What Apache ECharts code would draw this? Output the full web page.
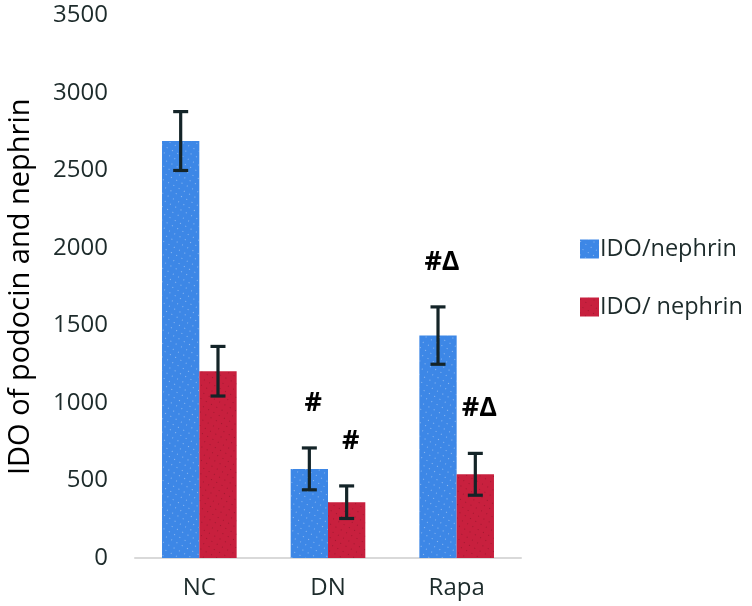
<!DOCTYPE html>
<html>
<head>
<meta charset="utf-8">
<script src="https://cdn.jsdelivr.net/npm/echarts@6/dist/echarts.min.js"></script>
<style>html,body{margin:0;padding:0;background:#fff}#c{width:752px;height:606px}</style>
</head>
<body>
<div id="c"></div>
<script>
var categories = ['NC', 'DN', 'Rapa'];
var seriesNames = ['IDO/nephrin', 'IDO/ nephrin'];
var blueValues = [2690, 575, 1435];
var blueErrors = [190, 135, 185];
var blueMarks = ['', '#', '#Δ'];
var redValues = [1205, 360, 540];
var redErrors = [160, 105, 135];
var redMarks = ['', '#', '#Δ'];
var yTicks = { min: 0, max: 3500, interval: 500 };

var TEXT = '#1d2b2b';
var FONT = '"Open Sans", "Noto Sans", sans-serif';
var GAP = 0.42;

function errSeries(values, errors, marks, side) {
  return {
    type: 'custom',
    z: 10,
    silent: true,
    data: values.map(function (v, i) { return [i, v, errors[i]]; }),
    encode: { x: 0, y: 1 },
    renderItem: function (params, api) {
      var i = api.value(0), v = api.value(1), e = api.value(2);
      var mark = marks[i];
      var band = api.size([1, 0])[0];
      var w = band * (1 - GAP) / 2;
      var c = api.coord([i, v]);
      var x = c[0] + side * w / 2;
      var top = api.coord([i, v + e])[1];
      var bot = api.coord([i, v - e])[1];
      var cap = 7.5;
      var st = { stroke: '#142428', lineWidth: 3.2 };
      var children = [
        { type: 'line', shape: { x1: x, y1: top, x2: x, y2: bot }, style: st },
        { type: 'line', shape: { x1: x - cap, y1: top, x2: x + cap, y2: top }, style: st },
        { type: 'line', shape: { x1: x - cap, y1: bot, x2: x + cap, y2: bot }, style: st }
      ];
      if (mark) {
        children.push({
          type: 'text',
          style: {
            text: mark, x: x + 4, y: top - 45,
            textAlign: 'center', textVerticalAlign: 'middle',
            fill: '#000', font: 'bold 27px ' + FONT
          }
        });
      }
      return { type: 'group', children: children };
    }
  };
}

var chart = echarts.init(document.getElementById('c'), null, { renderer: 'canvas' });
chart.setOption({
  animation: false,
  backgroundColor: '#fff',
  grid: { left: 135, right: 231, top: 15.5, bottom: 48, containLabel: false, outerBoundsMode: 'none' },
  legend: {
    orient: 'vertical', left: 580, top: 237, padding: 0,
    itemWidth: 19, itemHeight: 19, itemGap: 34,
    icon: 'rect',
    textStyle: { color: TEXT, fontSize: 23.5, fontFamily: FONT, padding: [0, 0, 0, -4] },
    data: seriesNames
  },
  xAxis: {
    type: 'category', data: categories,
    axisLine: { lineStyle: { color: '#d9d9d9', width: 2 } },
    axisTick: { show: false },
    axisLabel: { color: TEXT, fontSize: 24, fontFamily: FONT, margin: 18 }
  },
  yAxis: {
    type: 'value', min: yTicks.min, max: yTicks.max, interval: yTicks.interval,
    name: 'IDO of podocin and nephrin', nameLocation: 'middle', nameRotate: 90, nameGap: 100,
    nameTextStyle: { color: '#000', fontSize: 29, fontFamily: FONT },
    splitLine: { show: false },
    axisLine: { show: false }, axisTick: { show: false },
    axisLabel: { color: TEXT, fontSize: 24, fontFamily: FONT, margin: 27, formatter: function (v) { return String(v); } }
  },
  series: [
    {
      name: seriesNames[0], type: 'bar', data: blueValues,
      barGap: 0, barCategoryGap: (GAP * 100) + '%',
      itemStyle: {
        color: '#3d87e6',
        decal: { symbol: 'circle', symbolSize: 0.35, dashArrayX: [[3, 3]], dashArrayY: [3, 3], rotation: 0.5, color: 'rgba(255,255,255,0.55)' }
      }
    },
    {
      name: seriesNames[1], type: 'bar', data: redValues,
      barGap: 0, barCategoryGap: (GAP * 100) + '%',
      itemStyle: {
        color: '#c8203e',
        decal: { symbol: 'circle', symbolSize: 0.35, dashArrayX: [[3, 3]], dashArrayY: [3, 3], rotation: 0.5, color: 'rgba(60,0,10,0.35)' }
      }
    },
    errSeries(blueValues, blueErrors, blueMarks, -1),
    errSeries(redValues, redErrors, redMarks, 1)
  ]
});
</script>
</body>
</html>
